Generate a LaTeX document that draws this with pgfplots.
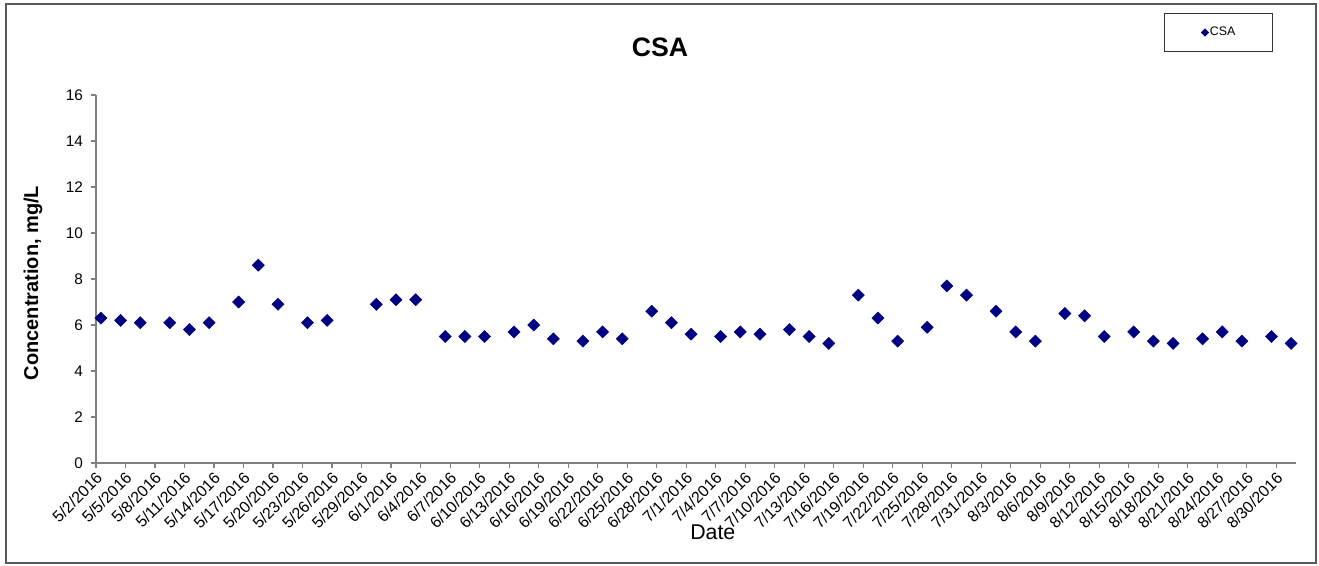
\documentclass[border=0pt]{standalone}
\usepackage{pgfplots}
\pgfplotsset{compat=1.18}
\usepackage{fontspec}
\setmainfont{Liberation Sans}

\definecolor{csanavy}{HTML}{000080}
\definecolor{axisgray}{HTML}{808080}

\pgfplotstableread{
day conc
0.5 6.3
2.5 6.2
4.5 6.1
7.5 6.1
9.5 5.8
11.5 6.1
14.5 7.0
16.5 8.6
18.5 6.9
21.5 6.1
23.5 6.2
28.5 6.9
30.5 7.1
32.5 7.1
35.5 5.5
37.5 5.5
39.5 5.5
42.5 5.7
44.5 6.0
46.5 5.4
49.5 5.3
51.5 5.7
53.5 5.4
56.5 6.6
58.5 6.1
60.5 5.6
63.5 5.5
65.5 5.7
67.5 5.6
70.5 5.8
72.5 5.5
74.5 5.2
77.5 7.3
79.5 6.3
81.5 5.3
84.5 5.9
86.5 7.7
88.5 7.3
91.5 6.6
93.5 5.7
95.5 5.3
98.5 6.5
100.5 6.4
102.5 5.5
105.5 5.7
107.5 5.3
109.5 5.2
112.5 5.4
114.5 5.7
116.5 5.3
119.5 5.5
121.5 5.2
}\csadata

\begin{document}
\begin{tikzpicture}
% page size and outer chart frame
\path (0pt,0pt) rectangle (989.25pt,423.75pt);
\draw[black!65, line width=0.9pt] (4.5pt,1.5pt) rectangle (987pt,420.75pt);
\node[anchor=base, font=\fontsize{20}{24}\selectfont\bfseries] at (495pt,381pt) {CSA};

\begin{axis}[
    at={(72pt,76.5pt)}, anchor=south west,
    scale only axis,
    width=900pt, height=276pt,
    xmin=0, xmax=122,
    ymin=0, ymax=16,
    axis lines=left,
    axis line style={-, axisgray, line width=0.9pt},
    tick align=outside,
    major tick length=3.75pt,
    tick style={axisgray, line width=0.9pt},
    xtick={0,3,...,120},
    xticklabels={5/2/2016,5/5/2016,5/8/2016,5/11/2016,5/14/2016,5/17/2016,5/20/2016,5/23/2016,5/26/2016,5/29/2016,6/1/2016,6/4/2016,6/7/2016,6/10/2016,6/13/2016,6/16/2016,6/19/2016,6/22/2016,6/25/2016,6/28/2016,7/1/2016,7/4/2016,7/7/2016,7/10/2016,7/13/2016,7/16/2016,7/19/2016,7/22/2016,7/25/2016,7/28/2016,7/31/2016,8/3/2016,8/6/2016,8/9/2016,8/12/2016,8/15/2016,8/18/2016,8/21/2016,8/24/2016,8/27/2016,8/30/2016},
    x tick label style={rotate=45, anchor=north east, font=\fontsize{12}{14}\selectfont, inner sep=1pt, xshift=-1pt},
    ytick={0,2,...,16},
    y tick label style={font=\fontsize{11.5}{14}\selectfont, xshift=-2.5pt},
    /pgf/number format/assume math mode=true,
    ylabel={Concentration, mg/L},
    ylabel style={at={(axis description cs:-0.0525,0.489)}, anchor=center, font=\fontsize{15}{18}\selectfont\bfseries},
    xlabel={Date},
    xlabel style={at={(axis description cs:0.514,-0.209)}, anchor=base, font=\fontsize{16}{19}\selectfont},
    legend style={at={(0.935,1.17)}, anchor=center, draw=black!80, line width=0.6pt,
        inner xsep=26.5pt, inner ysep=9pt, font=\fontsize{9.3}{11}\selectfont,
        nodes={inner sep=1pt}},
    legend image code/.code={\path (-4pt,0pt); \draw[#1, mark size=1.9pt] plot coordinates {(0pt,0pt)};},
]
\addplot[only marks, mark=square*, mark size=3.2pt, mark options={rotate=45, fill=csanavy, draw=csanavy}]
    table[x=day, y=conc] {\csadata};
\legend{CSA}
\end{axis}
\end{tikzpicture}
\end{document}
